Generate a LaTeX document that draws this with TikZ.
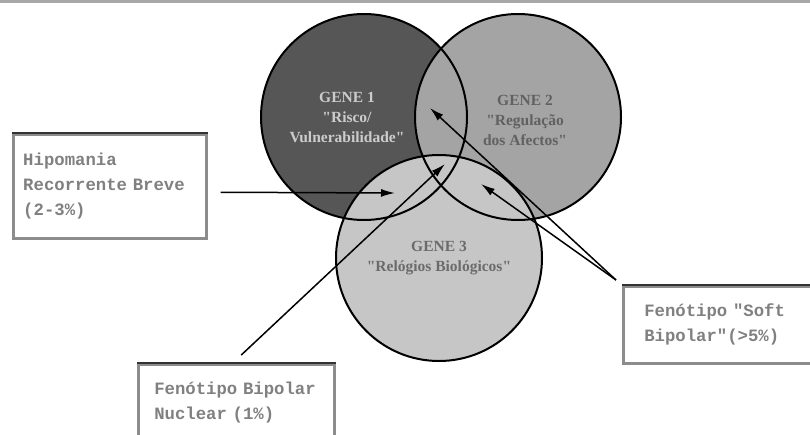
\documentclass[tikz,border=0pt]{standalone}
\usepackage{fontspec}
\newfontfamily\boxfont{Liberation Mono}
\newfontfamily\genefont{Liberation Serif}
\usetikzlibrary{arrows.meta, calc}

\definecolor{geneone}{HTML}{565656}
\definecolor{genetwo}{HTML}{A4A4A4}
\definecolor{genethree}{HTML}{C6C6C6}
\definecolor{rulegray}{HTML}{A8A8A8}

\tikzset{
  gene/.style={circle, inner sep=0pt, minimum size=206pt},
  genetext/.style={align=center, font=\genefont\bfseries\fontsize{15.5}{20}\selectfont},
  phenobox/.style={draw=black!45, line width=2.5pt, rectangle, anchor=north west, align=left,
    inner xsep=10pt, font=\boxfont\bfseries\fontsize{17.3}{25}\selectfont, text=black!50},
  boxtop/.style={draw=black!80, line width=2pt}
}

\begin{document}
\begin{tikzpicture}[x=1pt, y=-1pt, >={Latex[length=14pt,width=8pt]}, line width=1.5pt]

\useasboundingbox (0,0) rectangle (810,434);
\fill[rulegray] (0,0) rectangle (810,2.5);

% the three genes
\node[gene, fill=geneone] (gene1) at (364,117) {};
\node[gene, fill=genetwo] (gene2) at (518,117) {};
\node[gene, fill=genethree] (gene3) at (439,258) {};
\foreach \g in {gene1,gene2,gene3}
  \draw[line width=2pt] (\g.center) circle[radius=103pt];

\node[genetext, text=black!20] (gene1txt) at ([xshift=-17pt]gene1.center) {GENE 1\\"Risco/\\Vulnerabilidade"};
\node[genetext, text=black!62] (gene2txt) at ([shift={(7,3)}]gene2.center) {GENE 2\\"Regulação\\dos Afectos"};
\node[genetext, text=black!58] (gene3txt) at (gene3.center) {GENE 3\\"Relógios Biológicos"};

% phenotypes
\node[phenobox, text width=173pt, minimum height=104pt] (hipo) at (12,133) {Hipomania\\Recorrente Breve\\(2-3\%)};
\node[phenobox, inner xsep=16pt, text width=164pt, minimum height=76pt] (nuclear) at (137,363) {Fenótipo Bipolar\\Nuclear (1\%)};
\node[phenobox, inner xsep=21pt, text width=170pt, minimum height=77pt] (soft) at (622,285) {Fenótipo "Soft\\Bipolar"(>5\%)};
\foreach \b in {hipo,nuclear,soft}
  \draw[boxtop] (\b.north west) -- (\b.north east);

\coordinate (hipotip) at (395,193);
\coordinate (nucleartip) at (445,164);
\coordinate (softtipa) at (430,108);
\coordinate (softtipb) at (481,184);

\draw[->] ($(hipo.east)+(13,6)$) -- (hipotip);
\draw[->] ($(nuclear.north)+(5,-8)$) -- (nucleartip);
\draw[->] ($(soft.north west)+(-6,-5)$) -- (softtipa);
\draw[->] ($(soft.north west)+(-6,-5)$) -- (softtipb);

\end{tikzpicture}
\end{document}
